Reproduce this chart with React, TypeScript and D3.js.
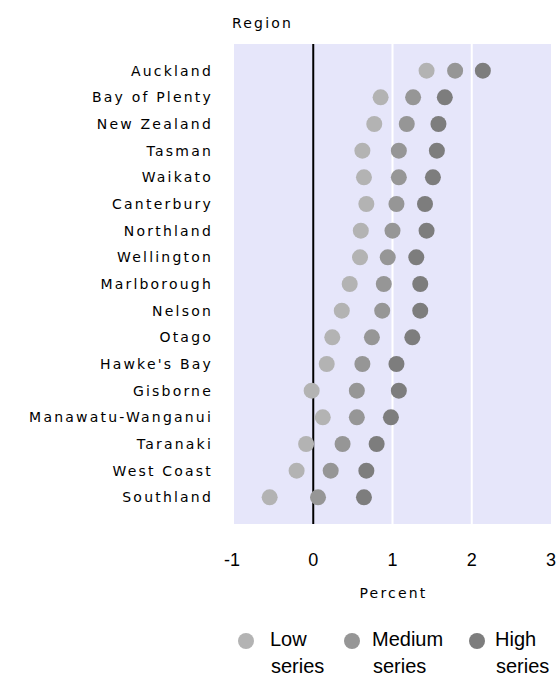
import React from 'react';
import * as d3 from 'd3';

const regions = [
  'Auckland', 'Bay of Plenty', 'New Zealand', 'Tasman', 'Waikato', 'Canterbury',
  'Northland', 'Wellington', 'Marlborough', 'Nelson', 'Otago', "Hawke's Bay",
  'Gisborne', 'Manawatu-Wanganui', 'Taranaki', 'West Coast', 'Southland',
];
const lowSeries = [1.43, 0.85, 0.77, 0.62, 0.64, 0.67, 0.6, 0.59, 0.46, 0.36, 0.24, 0.17, -0.02, 0.12, -0.09, -0.21, -0.55];
const mediumSeries = [1.79, 1.26, 1.18, 1.08, 1.08, 1.05, 1.0, 0.94, 0.89, 0.87, 0.74, 0.62, 0.55, 0.55, 0.37, 0.22, 0.06];
const highSeries = [2.14, 1.66, 1.58, 1.56, 1.51, 1.41, 1.43, 1.3, 1.35, 1.35, 1.25, 1.05, 1.08, 0.98, 0.8, 0.67, 0.64];
const xTicks = [-1, 0, 1, 2, 3];
const seriesNames = ['Low series', 'Medium series', 'High series'];
const seriesColors = ['#b3b3b3', '#969696', '#7d7d7d'];

const W = 557;
const H = 677;
const labelFont = '"DejaVu Sans", sans-serif';
const arial = '"Liberation Sans", Arial, sans-serif';

const App = () => {
  const margin = { top: 44, right: 6, bottom: 153, left: 234 };
  const x = d3.scaleLinear().domain([-1, 3]).range([margin.left, W - margin.right]);
  const y = d3.scalePoint().domain(regions).range([margin.top, H - margin.bottom]).padding(1);
  const series = [lowSeries, mediumSeries, highSeries];
  // legend layout (dot centre, text start)
  const legendDot = [246, 352, 477];
  const legendText = [270, 372, 495];

  return (
    <svg width={W} height={H} style={{ position: 'absolute', left: 0, top: 0 }}>
      <rect x={margin.left} y={margin.top} width={x(3) - x(-1)} height={H - margin.bottom - margin.top} fill="#e6e6fa" />
      {[1, 2].map((t) => (
        <line key={t} x1={x(t)} x2={x(t)} y1={margin.top} y2={H - margin.bottom} stroke="#fff" strokeWidth={2} />
      ))}
      <line x1={x(0)} x2={x(0)} y1={margin.top} y2={H - margin.bottom} stroke="#000" strokeWidth={2} />
      <text x={232} y={28} fontFamily={labelFont} fontSize={14} letterSpacing={2.2}>Region</text>
      {regions.map((r) => (
        <text key={r} x={213} y={(y(r) as number) + 5} textAnchor="end" fontFamily={labelFont} fontSize={14} letterSpacing={2.2}>
          {r}
        </text>
      ))}
      {series.map((vals, si) =>
        vals.map((v, i) => (
          <circle key={si + '-' + i} cx={x(v)} cy={y(regions[i]) as number} r={8} fill={seriesColors[si]} />
        )),
      )}
      {xTicks.map((t) => (
        <text key={t} x={x(t)} y={566} textAnchor="middle" dx={t === -1 ? -2 : 0} fontFamily={arial} fontSize={18}>
          {t}
        </text>
      ))}
      <text x={(x(-1) + x(3)) / 2 + 1} y={598} textAnchor="middle" fontFamily={labelFont} fontSize={14} letterSpacing={2.2}>Percent</text>
      {seriesNames.map((s, i) => {
        const [a, b] = s.split(' ');
        return (
          <g key={s}>
            <circle cx={legendDot[i]} cy={641} r={8} fill={seriesColors[i]} />
            <text x={legendText[i]} y={646} fontFamily={arial} fontSize={20}>{a}</text>
            <text x={legendText[i] + 1} y={673} fontFamily={arial} fontSize={20}>{b}</text>
          </g>
        );
      })}
    </svg>
  );
};

export default App;
